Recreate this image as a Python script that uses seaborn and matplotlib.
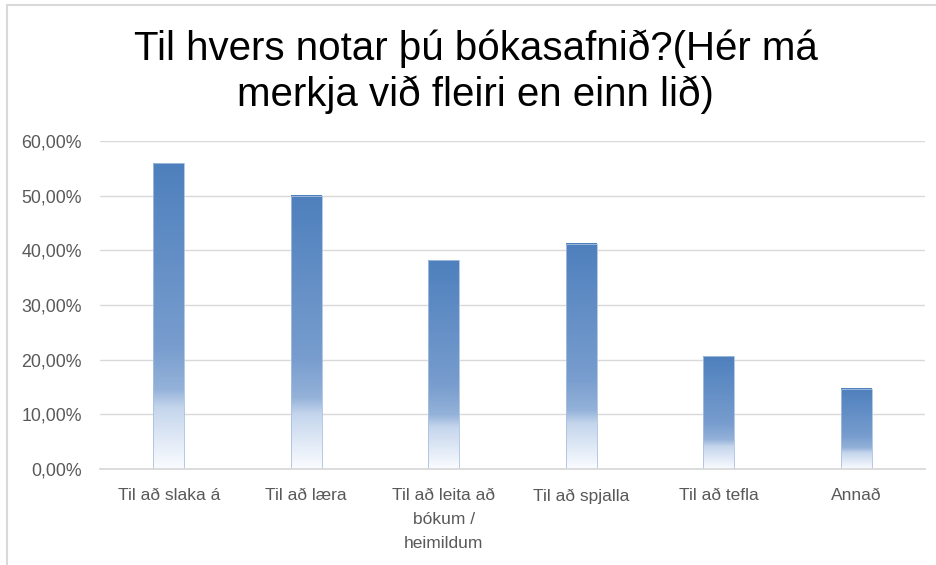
import matplotlib
matplotlib.use("Agg")
import matplotlib.pyplot as plt
import seaborn as sns
import numpy as np
import pandas as pd
from matplotlib.lines import Line2D
from matplotlib.ticker import FuncFormatter, MultipleLocator

categories = ["Til að slaka á", "Til að læra", "Til að leita að\nbókum /\nheimildum",
              "Til að spjalla", "Til að tefla", "Annað"]
values = [0.559, 0.500, 0.382, 0.412, 0.206, 0.147]
title = "Til hvers notar þú bókasafnið?(Hér má\nmerkja við fleiri en einn lið)"

sns.set_theme(style="white")
plt.rcParams["font.family"] = ["Liberation Sans", "DejaVu Sans"]

fig = plt.figure(figsize=(9.36, 5.65), dpi=100)
ax = fig.add_axes([100 / 936, 1 - 469 / 565, 825 / 936, 328 / 565])

df = pd.DataFrame({"cat": categories, "val": values})
sns.barplot(data=df, x="cat", y="val", ax=ax, width=0.225, color="#4F81BD", zorder=2)

# gradient fill of each bar
stops_s = [0.0, 0.6, 0.74, 0.80, 1.0]
stops_c = np.array([(78, 128, 189), (120, 157, 206), (148, 178, 217),
                    (196, 213, 236), (250, 252, 255)]) / 255.0
N = 256
s = np.linspace(0, 1, N)
grad = np.stack([np.interp(s, stops_s, stops_c[:, k]) for k in range(3)], axis=-1)
grad = grad[:, None, :]
for p in ax.patches:
    x0, y0 = p.get_x(), p.get_y()
    w, h = p.get_width(), p.get_height()
    ax.imshow(grad, extent=[x0, x0 + w, y0, y0 + h], origin="upper",
              aspect="auto", zorder=2, interpolation="bilinear")
    p.set_facecolor("none")
    p.set_edgecolor("#A9C0E0")
    p.set_linewidth(0.6)
    p.set_zorder(3)

ax.set_xlim(-0.5, len(categories) - 0.5)
ax.set_ylim(0, 0.6)
ax.yaxis.set_major_locator(MultipleLocator(0.1))
ax.yaxis.set_major_formatter(FuncFormatter(lambda v, _: f"{v * 100:.2f}%".replace(".", ",")))
ax.grid(axis="y", color="#D9D9D9", linewidth=1.0, zorder=0)
ax.set_axisbelow(True)
for side in ["left", "right", "top"]:
    ax.spines[side].set_visible(False)
ax.spines["bottom"].set_color("#D9D9D9")
ax.spines["bottom"].set_linewidth(1.3)
ax.spines["bottom"].set_zorder(4)
ax.set_xlabel("")
ax.set_ylabel("")
ax.tick_params(axis="both", length=0, colors="#595959")
ax.tick_params(axis="y", pad=13, labelsize=12.8)
ax.tick_params(axis="x", pad=14, labelsize=12.5)
for lbl in ax.get_xticklabels():
    lbl.set_linespacing(1.75)

fig.text(0.508, 1 - 72 / 565, title, ha="center", va="center", fontsize=29,
         family=["Liberation Sans", "DejaVu Sans"], color="#000000", linespacing=1.23)

# outer frame lines (top and left)
fig.add_artist(Line2D([7 / 936, 1], [1 - 5 / 565, 1 - 5 / 565], transform=fig.transFigure,
                      color="#D9D9D9", linewidth=1.5))
fig.add_artist(Line2D([7 / 936, 7 / 936], [0, 1 - 5 / 565], transform=fig.transFigure,
                      color="#D9D9D9", linewidth=1.5))

fig.savefig("out.png", dpi=100, facecolor="white")
